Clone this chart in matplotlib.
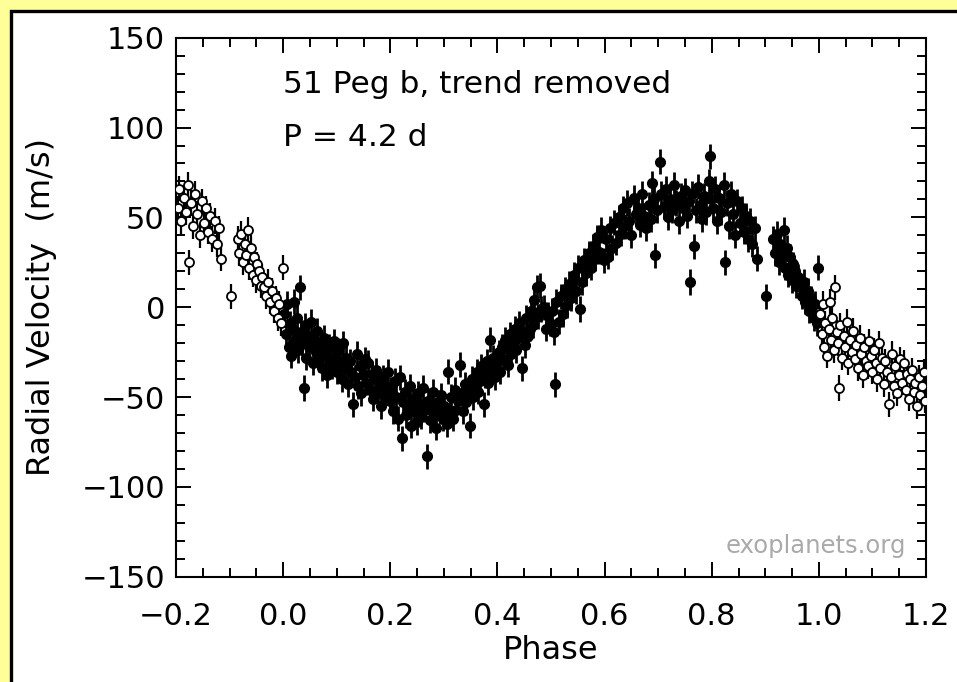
import numpy as np
import matplotlib
matplotlib.use("Agg")
import matplotlib.pyplot as plt
from matplotlib.patches import Rectangle
from matplotlib.ticker import MultipleLocator

# phased radial velocities of 51 Peg, one line per 0.1 in phase
phase = [
    0.002, 0.005, 0.008, 0.010, 0.012, 0.015, 0.018, 0.020, 0.022, 0.025, 0.028, 0.031, 0.033, 0.036, 0.038, 0.040, 0.043, 0.046,
    0.049, 0.052, 0.055, 0.058, 0.061, 0.064, 0.067, 0.070, 0.073, 0.076, 0.079, 0.082, 0.085, 0.088, 0.091, 0.094, 0.097, 0.100,
    0.103, 0.106, 0.109, 0.112, 0.115, 0.118, 0.121, 0.124, 0.127, 0.131, 0.134, 0.137, 0.140, 0.143, 0.146, 0.149,
    0.152, 0.155, 0.159, 0.162, 0.165, 0.168, 0.171, 0.174, 0.177, 0.180, 0.183, 0.186, 0.189, 0.192, 0.196, 0.199,
    0.202, 0.205, 0.208, 0.211, 0.214, 0.218, 0.221, 0.224, 0.227, 0.230, 0.233, 0.236, 0.239, 0.242, 0.245, 0.249,
    0.252, 0.255, 0.258, 0.261, 0.264, 0.268, 0.271, 0.274, 0.277, 0.280, 0.283, 0.286, 0.289, 0.292, 0.295, 0.298,
    0.301, 0.305, 0.308, 0.311, 0.314, 0.317, 0.320, 0.323, 0.326, 0.330, 0.333, 0.336, 0.339, 0.342, 0.345, 0.349,
    0.352, 0.355, 0.358, 0.361, 0.364, 0.367, 0.370, 0.374, 0.377, 0.380, 0.383, 0.386, 0.389, 0.392, 0.395, 0.398,
    0.402, 0.405, 0.408, 0.411, 0.414, 0.417, 0.420, 0.423, 0.426, 0.429, 0.432, 0.435, 0.438, 0.441, 0.445, 0.448,
    0.451, 0.454, 0.457, 0.460, 0.463, 0.466, 0.469, 0.473, 0.476, 0.479, 0.482, 0.486, 0.490, 0.494, 0.498, 0.507,
    0.502, 0.506, 0.510, 0.514, 0.518, 0.522, 0.526, 0.530, 0.534, 0.538, 0.542, 0.546, 0.550,
    0.554, 0.558, 0.562, 0.566, 0.570, 0.574, 0.578, 0.582, 0.586, 0.590, 0.594, 0.598,
    0.602, 0.606, 0.610, 0.614, 0.618, 0.622, 0.626, 0.630, 0.634, 0.638, 0.642, 0.646, 0.650,
    0.654, 0.658, 0.662, 0.666, 0.670, 0.674, 0.678, 0.682, 0.686, 0.688, 0.692, 0.694, 0.697, 0.703,
    0.706, 0.710, 0.714, 0.718, 0.722, 0.726, 0.730, 0.734, 0.738, 0.742, 0.746, 0.750, 0.754,
    0.758, 0.760, 0.764, 0.766, 0.770, 0.774, 0.778, 0.782, 0.786, 0.790, 0.794, 0.796, 0.799,
    0.803, 0.806, 0.810, 0.814, 0.818, 0.822, 0.825, 0.828, 0.832, 0.836, 0.840, 0.844,
    0.848, 0.852, 0.856, 0.860, 0.864, 0.868, 0.872, 0.876, 0.880, 0.884, 0.902,
    0.915, 0.918, 0.922, 0.925, 0.928, 0.931, 0.934, 0.937, 0.940, 0.943, 0.946, 0.949, 0.952, 0.955,
    0.958, 0.961, 0.965, 0.968, 0.972, 0.975, 0.979, 0.982, 0.986, 0.990, 0.993, 0.996, 0.999,
]
rv = [
    -4, -15, 2, -22, -9, -27, -12, 3, -18, -6, -24, 11, -14, -20, -45, -10, -28, -16,
    -22, -8, -31, -18, -25, -13, -29, -21, -34, -17, -26, -38, -22, -30, -33, -19, -27, -36,
    -24, -31, -40, -20, -34, -28, -43, -30, -36, -54, -39, -26, -44, -33, -48, -38,
    -29, -42, -31, -46, -37, -51, -40, -35, -47, -42, -55, -39, -49, -44, -36, -52,
    -46, -58, -41, -50, -62, -39, -73, -53, -47, -60, -55, -44, -66, -51, -58, -64,
    -48, -54, -61, -45, -57, -83, -52, -63, -56, -47, -60, -67, -53, -58, -49, -62,
    -55, -65, -36, -59, -50, -62, -46, -57, -52, -32, -48, -58, -43, -53, -47, -66,
    -40, -50, -44, -36, -47, -41, -33, -54, -38, -30, -42, -18, -35, -28, -39, -31,
    -25, -36, -22, -29, -18, -23, -32, -15, -26, -20, -12, -24, -17, -9, -34, -14,
    -21, -6, -16, -12, -2, -10, 4, 11, -5, 12, -1, 0, -12, -4, -9, -43,
    -2, -14, 3, -8, 6, -4, 10, 1, 13, 5, 18, 9, 22,
    -1, 14, 26, 19, 30, 22, 34, 27, 39, 31, 43, 26,
    38, 28, 44, 33, 47, 36, 50, 41, 55, 45, 58, 48, 40,
    61, 52, 55, 46, 63, 51, 44, 57, 49, 69, 60, 29, 54, 81,
    63, 56, 66, 50, 60, 54, 68, 58, 48, 62, 55, 65, 51,
    59, 14, 63, 34, 54, 67, 57, 49, 62, 53, 70, 84, 60,
    55, 66, 48, 61, 53, 68, 25, 58, 45, 63, 52, 40,
    59, 47, 55, 42, 51, 38, 48, 35, 44, 27, 6,
    38, 30, 41, 25, 35, 29, 43, 22, 33, 18, 28, 15, 24, 20,
    12, 17, 11, 6, 14, 3, 9, -2, 5, -6, 2, -9, 22,
]
rv_err = 7.0  # m/s, bars look about the same size everywhere

ph = np.array(phase)
v = np.array(rv, dtype=float)

fig = plt.figure(figsize=(9.57, 6.82), dpi=100, facecolor="#ffff99")
# white panel with black frame (runs off the right and bottom edges)
fig.patches.append(Rectangle((10.5 / 957, -0.1), 1.2, 1.1 - 10.5 / 682,
                             transform=fig.transFigure, facecolor="white",
                             edgecolor="black", lw=2.4, zorder=-5))

ax = fig.add_axes([176 / 957, 1 - 576.7 / 682, 750 / 957, 539 / 682])
ax.set_facecolor("white")

# measured points
ax.errorbar(ph, v, yerr=rv_err, fmt="o", ms=7, color="black", ecolor="black",
            elinewidth=2.0, capsize=0, zorder=3)

# repeated points outside 0..1 are drawn open
lo = ph >= 0.8
hi = ph <= 0.2
ph_rep = np.concatenate([ph[lo] - 1, ph[hi] + 1])
v_rep = np.concatenate([v[lo], v[hi]])
ax.errorbar(ph_rep, v_rep, yerr=rv_err, fmt="o", ms=6.5, mfc="white", mec="black",
            mew=1.3, ecolor="black", elinewidth=1.6, capsize=0, zorder=3)

ax.set_xlim(-0.2, 1.2)
ax.set_ylim(-150, 150)
ax.xaxis.set_major_locator(MultipleLocator(0.2))
ax.xaxis.set_minor_locator(MultipleLocator(0.05))
ax.yaxis.set_major_locator(MultipleLocator(50))
ax.yaxis.set_minor_locator(MultipleLocator(10))
ax.tick_params(which="both", direction="in", top=True, right=True, width=1.4, colors="black")
ax.tick_params(which="major", length=11)
ax.tick_params(which="minor", length=6.5)
ax.tick_params(axis="x", which="major", labelsize=22, pad=18)
ax.tick_params(axis="y", which="major", labelsize=22, pad=8)
for sp in ax.spines.values():
    sp.set_linewidth(1.5)

ax.set_xlabel("Phase", fontsize=23)
ax.set_ylabel("Radial Velocity  (m/s)", fontsize=23)
ax.xaxis.set_label_coords(0.499, -0.108)
ax.yaxis.set_label_coords(-0.158, 0.5)

ax.text(0.1427, 0.897, "51 Peg b, trend removed", transform=ax.transAxes,
        fontsize=22.5, va="baseline", ha="left")
ax.text(0.1427, 0.80, "P = 4.2 d", transform=ax.transAxes,
        fontsize=22.5, va="baseline", ha="left")
ax.text(0.974, 0.044, "exoplanets.org", transform=ax.transAxes,
        fontsize=17.5, va="baseline", ha="right", color="#aaaaaa")

fig.savefig("out.png", dpi=100, facecolor=fig.get_facecolor())
